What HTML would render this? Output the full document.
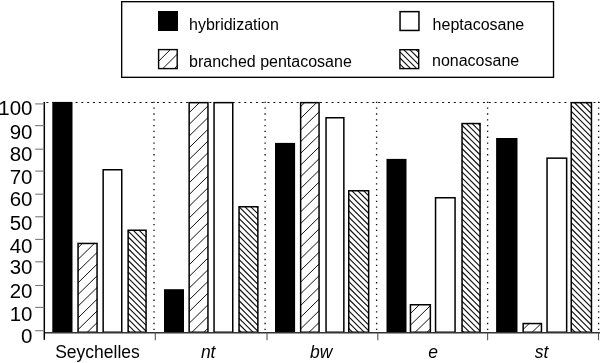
<!DOCTYPE html>
<html><head><meta charset="utf-8"><style>
html,body{margin:0;padding:0;background:#fff;width:600px;height:363px;overflow:hidden}
svg{display:block;will-change:transform}
text{font-family:"Liberation Sans",sans-serif}
</style></head><body>
<svg width="600" height="363" viewBox="0 0 600 363" font-family='"Liberation Sans", sans-serif'><rect x="0" y="0" width="600" height="363" fill="#fff"/>
<rect x="121.67" y="1.68" width="431.85" height="75.65" fill="none" stroke="#000" stroke-width="1.35"/>
<rect x="158" y="11" width="20" height="20" fill="#000"/>
<rect x="400.05" y="11.65" width="18.90" height="18.80" fill="none" stroke="#000" stroke-width="1.5"/>
<path d="M158.60 49.80L158.80 49.60M158.60 61.30L170.30 49.60M162.50 68.90L177.40 54.00M174.00 68.90L177.40 65.50" stroke="#111" stroke-width="1.0" fill="none"/>
<rect x="158.60" y="49.60" width="18.60" height="19.00" fill="none" stroke="#000" stroke-width="1.4"/>
<path d="M415.90 49.60L418.70 52.40M409.80 49.60L418.70 58.50M403.70 49.60L418.70 64.60M399.90 51.90L416.70 68.70M399.90 58.00L410.60 68.70M399.90 64.10L404.50 68.70" stroke="#111" stroke-width="1.1" fill="none"/>
<rect x="399.90" y="49.70" width="18.80" height="18.90" fill="none" stroke="#000" stroke-width="1.4"/>
<text x="189.0" y="30.3" font-size="16" text-anchor="start" fill="#000">hybridization</text>
<text x="432.6" y="30.0" font-size="16" text-anchor="start" fill="#000">heptacosane</text>
<text x="189.0" y="66.5" font-size="16" text-anchor="start" fill="#000">branched pentacosane</text>
<text x="432.0" y="66.3" font-size="16" text-anchor="start" fill="#000">nonacosane</text>
<line x1="46.4" y1="102.5" x2="600" y2="102.5" stroke="#111" stroke-width="1.1" stroke-dasharray="2.0 3.82"/>
<line x1="154.0" y1="101.7" x2="154.0" y2="332" stroke="#111" stroke-width="1.35" stroke-dasharray="1.3 4.52"/>
<line x1="265.1" y1="101.7" x2="265.1" y2="332" stroke="#111" stroke-width="1.35" stroke-dasharray="1.3 4.52"/>
<line x1="376.6" y1="101.7" x2="376.6" y2="332" stroke="#111" stroke-width="1.35" stroke-dasharray="1.3 4.52"/>
<line x1="487.6" y1="101.7" x2="487.6" y2="332" stroke="#111" stroke-width="1.35" stroke-dasharray="1.3 4.52"/>
<line x1="598.6" y1="101.7" x2="598.6" y2="332" stroke="#111" stroke-width="1.35" stroke-dasharray="1.3 4.52"/>
<rect x="52.3" y="101.9" width="20.20" height="231.10" fill="#000"/>
<rect x="77.3" y="242.7" width="20.50" height="90.30" fill="#fff"/>
<path d="M77.90 247.86L82.55 243.30M77.90 259.56L94.49 243.30M77.90 271.26L97.20 252.34M77.90 282.96L97.20 264.04M77.90 294.66L97.20 275.74M77.90 306.36L97.20 287.44M77.90 318.06L97.20 299.14M77.90 329.76L97.20 310.84M87.14 332.40L97.20 322.54" stroke="#111" stroke-width="1.0" fill="none"/>
<rect x="78.05" y="243.45" width="19.00" height="88.80" fill="none" stroke="#000" stroke-width="1.5"/>
<rect x="103.15" y="169.75" width="18.60" height="162.50" fill="#fff" stroke="#000" stroke-width="1.5"/>
<rect x="127.4" y="229.5" width="19.40" height="103.50" fill="#fff"/>
<path d="M144.82 230.10L146.20 231.48M138.95 230.10L146.20 237.35M133.08 230.10L146.20 243.22M128.00 230.89L146.20 249.09M128.00 236.76L146.20 254.96M128.00 242.63L146.20 260.83M128.00 248.50L146.20 266.70M128.00 254.37L146.20 272.57M128.00 260.24L146.20 278.44M128.00 266.11L146.20 284.31M128.00 271.98L146.20 290.18M128.00 277.85L146.20 296.05M128.00 283.72L146.20 301.92M128.00 289.59L146.20 307.79M128.00 295.46L146.20 313.66M128.00 301.33L146.20 319.53M128.00 307.20L146.20 325.40M128.00 313.07L146.20 331.27M128.00 318.94L141.46 332.40M128.00 324.81L135.59 332.40M128.00 330.68L129.72 332.40" stroke="#111" stroke-width="1.15" fill="none"/>
<rect x="128.15" y="230.25" width="17.90" height="102.00" fill="none" stroke="#000" stroke-width="1.5"/>
<rect x="164.0" y="289.2" width="20.00" height="43.80" fill="#000"/>
<rect x="188.4" y="101.9" width="20.30" height="231.10" fill="#fff"/>
<path d="M189.00 112.83L199.54 102.50M189.00 124.53L208.10 105.81M189.00 136.23L208.10 117.51M189.00 147.93L208.10 129.21M189.00 159.63L208.10 140.91M189.00 171.33L208.10 152.61M189.00 183.03L208.10 164.31M189.00 194.73L208.10 176.01M189.00 206.43L208.10 187.71M189.00 218.13L208.10 199.41M189.00 229.83L208.10 211.11M189.00 241.53L208.10 222.81M189.00 253.23L208.10 234.51M189.00 264.93L208.10 246.21M189.00 276.63L208.10 257.91M189.00 288.33L208.10 269.61M189.00 300.03L208.10 281.31M189.00 311.73L208.10 293.01M189.00 323.43L208.10 304.71M191.79 332.40L208.10 316.41M203.72 332.40L208.10 328.11" stroke="#111" stroke-width="1.0" fill="none"/>
<rect x="189.15" y="102.65" width="18.80" height="229.60" fill="none" stroke="#000" stroke-width="1.5"/>
<rect x="214.05" y="102.65" width="18.70" height="229.60" fill="#fff" stroke="#000" stroke-width="1.5"/>
<rect x="238.3" y="206.0" width="20.30" height="127.00" fill="#fff"/>
<path d="M256.53 206.60L258.00 208.07M250.66 206.60L258.00 213.94M244.79 206.60L258.00 219.81M238.92 206.60L258.00 225.68M238.90 212.45L258.00 231.55M238.90 218.32L258.00 237.42M238.90 224.19L258.00 243.29M238.90 230.06L258.00 249.16M238.90 235.93L258.00 255.03M238.90 241.80L258.00 260.90M238.90 247.67L258.00 266.77M238.90 253.54L258.00 272.64M238.90 259.41L258.00 278.51M238.90 265.28L258.00 284.38M238.90 271.15L258.00 290.25M238.90 277.02L258.00 296.12M238.90 282.89L258.00 301.99M238.90 288.76L258.00 307.86M238.90 294.63L258.00 313.73M238.90 300.50L258.00 319.60M238.90 306.37L258.00 325.47M238.90 312.24L258.00 331.34M238.90 318.11L253.19 332.40M238.90 323.98L247.32 332.40M238.90 329.85L241.45 332.40" stroke="#111" stroke-width="1.15" fill="none"/>
<rect x="239.05" y="206.75" width="18.80" height="125.50" fill="none" stroke="#000" stroke-width="1.5"/>
<rect x="275.0" y="142.9" width="20.10" height="190.10" fill="#000"/>
<rect x="299.9" y="101.9" width="19.90" height="231.10" fill="#fff"/>
<path d="M300.50 106.71L304.80 102.50M300.50 118.41L316.74 102.50M300.50 130.11L319.20 111.78M300.50 141.81L319.20 123.48M300.50 153.51L319.20 135.18M300.50 165.21L319.20 146.88M300.50 176.91L319.20 158.58M300.50 188.61L319.20 170.28M300.50 200.31L319.20 181.98M300.50 212.01L319.20 193.68M300.50 223.71L319.20 205.38M300.50 235.41L319.20 217.08M300.50 247.11L319.20 228.78M300.50 258.81L319.20 240.48M300.50 270.51L319.20 252.18M300.50 282.21L319.20 263.88M300.50 293.91L319.20 275.58M300.50 305.61L319.20 287.28M300.50 317.31L319.20 298.98M300.50 329.01L319.20 310.68M308.98 332.40L319.20 322.38" stroke="#111" stroke-width="1.0" fill="none"/>
<rect x="300.65" y="102.65" width="18.40" height="229.60" fill="none" stroke="#000" stroke-width="1.5"/>
<rect x="326.05" y="117.75" width="17.80" height="214.50" fill="#fff" stroke="#000" stroke-width="1.5"/>
<rect x="348.0" y="190.0" width="21.40" height="143.00" fill="#fff"/>
<path d="M363.50 190.60L368.80 195.90M357.63 190.60L368.80 201.77M351.76 190.60L368.80 207.64M348.60 193.31L368.80 213.51M348.60 199.18L368.80 219.38M348.60 205.05L368.80 225.25M348.60 210.92L368.80 231.12M348.60 216.79L368.80 236.99M348.60 222.66L368.80 242.86M348.60 228.53L368.80 248.73M348.60 234.40L368.80 254.60M348.60 240.27L368.80 260.47M348.60 246.14L368.80 266.34M348.60 252.01L368.80 272.21M348.60 257.88L368.80 278.08M348.60 263.75L368.80 283.95M348.60 269.62L368.80 289.82M348.60 275.49L368.80 295.69M348.60 281.36L368.80 301.56M348.60 287.23L368.80 307.43M348.60 293.10L368.80 313.30M348.60 298.97L368.80 319.17M348.60 304.84L368.80 325.04M348.60 310.71L368.80 330.91M348.60 316.58L364.42 332.40M348.60 322.45L358.55 332.40M348.60 328.32L352.68 332.40" stroke="#111" stroke-width="1.15" fill="none"/>
<rect x="348.75" y="190.75" width="19.90" height="141.50" fill="none" stroke="#000" stroke-width="1.5"/>
<rect x="386.5" y="158.9" width="20.00" height="174.10" fill="#000"/>
<rect x="409.7" y="304.0" width="21.40" height="29.00" fill="#fff"/>
<path d="M410.30 313.61L419.49 304.60M410.30 325.31L430.50 305.51M415.00 332.40L430.50 317.21M426.94 332.40L430.50 328.91" stroke="#111" stroke-width="1.0" fill="none"/>
<rect x="410.45" y="304.75" width="19.90" height="27.50" fill="none" stroke="#000" stroke-width="1.5"/>
<rect x="435.55" y="197.75" width="19.50" height="134.50" fill="#fff" stroke="#000" stroke-width="1.5"/>
<rect x="461.3" y="122.8" width="19.50" height="210.20" fill="#fff"/>
<path d="M477.92 123.40L480.20 125.68M472.05 123.40L480.20 131.55M466.18 123.40L480.20 137.42M461.90 124.99L480.20 143.29M461.90 130.86L480.20 149.16M461.90 136.73L480.20 155.03M461.90 142.60L480.20 160.90M461.90 148.47L480.20 166.77M461.90 154.34L480.20 172.64M461.90 160.21L480.20 178.51M461.90 166.08L480.20 184.38M461.90 171.95L480.20 190.25M461.90 177.82L480.20 196.12M461.90 183.69L480.20 201.99M461.90 189.56L480.20 207.86M461.90 195.43L480.20 213.73M461.90 201.30L480.20 219.60M461.90 207.17L480.20 225.47M461.90 213.04L480.20 231.34M461.90 218.91L480.20 237.21M461.90 224.78L480.20 243.08M461.90 230.65L480.20 248.95M461.90 236.52L480.20 254.82M461.90 242.39L480.20 260.69M461.90 248.26L480.20 266.56M461.90 254.13L480.20 272.43M461.90 260.00L480.20 278.30M461.90 265.87L480.20 284.17M461.90 271.74L480.20 290.04M461.90 277.61L480.20 295.91M461.90 283.48L480.20 301.78M461.90 289.35L480.20 307.65M461.90 295.22L480.20 313.52M461.90 301.09L480.20 319.39M461.90 306.96L480.20 325.26M461.90 312.83L480.20 331.13M461.90 318.70L475.60 332.40M461.90 324.57L469.73 332.40M461.90 330.44L463.86 332.40" stroke="#111" stroke-width="1.15" fill="none"/>
<rect x="462.05" y="123.55" width="18.00" height="208.70" fill="none" stroke="#000" stroke-width="1.5"/>
<rect x="496.1" y="138.0" width="21.40" height="195.00" fill="#000"/>
<rect x="522.4" y="322.8" width="19.80" height="10.20" fill="#fff"/>
<path d="M523.00 329.56L529.29 323.40M532.04 332.40L541.22 323.40" stroke="#111" stroke-width="1.0" fill="none"/>
<rect x="523.15" y="323.55" width="18.30" height="8.70" fill="none" stroke="#000" stroke-width="1.5"/>
<rect x="547.05" y="158.15" width="19.60" height="174.10" fill="#fff" stroke="#000" stroke-width="1.5"/>
<rect x="570.5" y="101.9" width="21.70" height="231.10" fill="#fff"/>
<path d="M586.01 102.50L591.60 108.09M580.14 102.50L591.60 113.96M574.27 102.50L591.60 119.83M571.10 105.20L591.60 125.70M571.10 111.07L591.60 131.57M571.10 116.94L591.60 137.44M571.10 122.81L591.60 143.31M571.10 128.68L591.60 149.18M571.10 134.55L591.60 155.05M571.10 140.42L591.60 160.92M571.10 146.29L591.60 166.79M571.10 152.16L591.60 172.66M571.10 158.03L591.60 178.53M571.10 163.90L591.60 184.40M571.10 169.77L591.60 190.27M571.10 175.64L591.60 196.14M571.10 181.51L591.60 202.01M571.10 187.38L591.60 207.88M571.10 193.25L591.60 213.75M571.10 199.12L591.60 219.62M571.10 204.99L591.60 225.49M571.10 210.86L591.60 231.36M571.10 216.73L591.60 237.23M571.10 222.60L591.60 243.10M571.10 228.47L591.60 248.97M571.10 234.34L591.60 254.84M571.10 240.21L591.60 260.71M571.10 246.08L591.60 266.58M571.10 251.95L591.60 272.45M571.10 257.82L591.60 278.32M571.10 263.69L591.60 284.19M571.10 269.56L591.60 290.06M571.10 275.43L591.60 295.93M571.10 281.30L591.60 301.80M571.10 287.17L591.60 307.67M571.10 293.04L591.60 313.54M571.10 298.91L591.60 319.41M571.10 304.78L591.60 325.28M571.10 310.65L591.60 331.15M571.10 316.52L586.98 332.40M571.10 322.39L581.11 332.40M571.10 328.26L575.24 332.40" stroke="#111" stroke-width="1.15" fill="none"/>
<rect x="571.25" y="102.65" width="20.20" height="229.60" fill="none" stroke="#000" stroke-width="1.5"/>
<line x1="44.3" y1="332.8" x2="600" y2="332.8" stroke="#333" stroke-width="1.4"/>
<line x1="44.3" y1="101.9" x2="44.3" y2="339.8" stroke="#000" stroke-width="1.5"/>
<line x1="35.2" y1="103.9" x2="44.3" y2="103.9" stroke="#777" stroke-width="1.1"/>
<line x1="35.2" y1="125.6" x2="44.3" y2="125.6" stroke="#777" stroke-width="1.1"/>
<line x1="35.2" y1="149.2" x2="44.3" y2="149.2" stroke="#777" stroke-width="1.1"/>
<line x1="35.2" y1="171.1" x2="44.3" y2="171.1" stroke="#777" stroke-width="1.1"/>
<line x1="35.2" y1="194.2" x2="44.3" y2="194.2" stroke="#777" stroke-width="1.1"/>
<line x1="35.2" y1="216.8" x2="44.3" y2="216.8" stroke="#777" stroke-width="1.1"/>
<line x1="35.2" y1="239.4" x2="44.3" y2="239.4" stroke="#777" stroke-width="1.1"/>
<line x1="35.2" y1="261.8" x2="44.3" y2="261.8" stroke="#777" stroke-width="1.1"/>
<line x1="35.2" y1="285.5" x2="44.3" y2="285.5" stroke="#777" stroke-width="1.1"/>
<line x1="35.2" y1="307.4" x2="44.3" y2="307.4" stroke="#777" stroke-width="1.1"/>
<line x1="35.2" y1="330.7" x2="44.3" y2="330.7" stroke="#777" stroke-width="1.1"/>
<line x1="155.3" y1="332.5" x2="155.3" y2="340.2" stroke="#555" stroke-width="1.1"/>
<line x1="267.0" y1="332.5" x2="267.0" y2="340.2" stroke="#555" stroke-width="1.1"/>
<line x1="377.8" y1="332.5" x2="377.8" y2="340.2" stroke="#555" stroke-width="1.1"/>
<line x1="487.6" y1="332.5" x2="487.6" y2="340.2" stroke="#555" stroke-width="1.1"/>
<line x1="598.5" y1="332.5" x2="598.5" y2="340.2" stroke="#555" stroke-width="1.1"/>
<text transform="translate(32.4 115.30) scale(1.05 1)" font-size="19.5" text-anchor="end">100</text>
<text transform="translate(32.4 138.70) scale(1.05 1)" font-size="19.5" text-anchor="end">90</text>
<text transform="translate(32.4 160.70) scale(1.05 1)" font-size="19.5" text-anchor="end">80</text>
<text transform="translate(32.4 183.90) scale(1.05 1)" font-size="19.5" text-anchor="end">70</text>
<text transform="translate(32.4 205.50) scale(1.05 1)" font-size="19.5" text-anchor="end">60</text>
<text transform="translate(32.4 229.60) scale(1.05 1)" font-size="19.5" text-anchor="end">50</text>
<text transform="translate(32.4 252.70) scale(1.05 1)" font-size="19.5" text-anchor="end">40</text>
<text transform="translate(32.4 274.30) scale(1.05 1)" font-size="19.5" text-anchor="end">30</text>
<text transform="translate(32.4 298.40) scale(1.05 1)" font-size="19.5" text-anchor="end">20</text>
<text transform="translate(32.4 320.50) scale(1.05 1)" font-size="19.5" text-anchor="end">10</text>
<text transform="translate(32.4 343.20) scale(1.05 1)" font-size="19.5" text-anchor="end">0</text>
<text x="97.5" y="358.2" font-size="17.5" text-anchor="middle" fill="#000">Seychelles</text>
<text x="208.2" y="358.2" font-size="17.5" text-anchor="middle" font-style="italic" fill="#000">nt</text>
<text x="321.2" y="358.2" font-size="17.5" text-anchor="middle" font-style="italic" fill="#000">bw</text>
<text x="433.2" y="358.2" font-size="17.5" text-anchor="middle" font-style="italic" fill="#000">e</text>
<text x="541.5" y="358.2" font-size="17.5" text-anchor="middle" font-style="italic" fill="#000">st</text></svg>
</body></html>
